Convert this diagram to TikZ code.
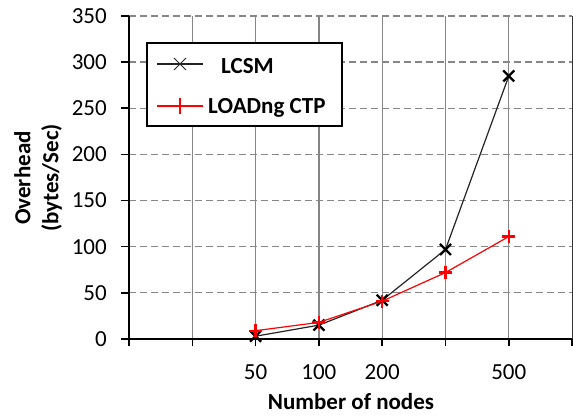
\documentclass[tikz,border=0pt]{standalone}
\usepackage{fontspec}
\setmainfont{Carlito}
\usepackage{tikz}
\usetikzlibrary{positioning}
\usepackage{xcolor}
\definecolor{gridgray}{RGB}{134,134,134}
\definecolor{lcsmcolor}{RGB}{35,35,35}
\definecolor{ctpcolor}{RGB}{255,0,0}

\begin{document}
\begin{tikzpicture}[x=1pt,y=1pt]
        \def\cw{63.3}
        \def\vs{0.923}
        \useasboundingbox (0,0) rectangle (573,417);
        \begin{scope}[shift={(129,78)}]
        \foreach \k in {1,...,6}
          \draw[gridgray,line width=1.3pt] (\k*\cw,0) -- (\k*\cw,350*\vs);
        \foreach \v in {50,100,...,350}
          \draw[gridgray,line width=1.3pt,dash pattern=on 7pt off 4pt] (0,\v*\vs) -- (7*\cw,\v*\vs);
        \draw[black!80,line width=1pt] (7*\cw,0) -- (7*\cw,350*\vs);
        \draw[black,line width=1.6pt] (0,350*\vs) -- (0,0) -- (7*\cw,0);
        \foreach \v in {0,50,...,350} {
          \draw[black,line width=1.6pt] (-8,\v*\vs) -- (0,\v*\vs);
          \node[anchor=east,inner sep=0pt,font=\fontsize{23}{27}\selectfont] (ytick\v) at (-22,\v*\vs) {\v};
        }
        \foreach \k in {0,...,7}
          \draw[black,line width=1.6pt] (\k*\cw,0) -- (\k*\cw,-7);
        \foreach \k/\l in {2/50,3/100,4/200,6/500}
          \node[font=\fontsize{23}{27}\selectfont] (xtick\l) at (\k*\cw,-33) {\l};
        % data
        \foreach \c/\v [count=\i] in {2/3,3/15,4/42,5/97,6/285}
          \coordinate (lcsm\i) at (\c*\cw,\v*\vs);
        \foreach \c/\v [count=\i] in {2/9,3/18,4/41,5/72,6/111}
          \coordinate (ctp\i) at (\c*\cw,\v*\vs);
        \draw[lcsmcolor,line width=1.2pt] (lcsm1) -- (lcsm2) -- (lcsm3) -- (lcsm4) -- (lcsm5);
        \foreach \i in {1,...,5}
          \draw[black,line width=2.3pt] (lcsm\i) +(-5.5,-5.5) -- +(5.5,5.5) (lcsm\i) +(-5.5,5.5) -- +(5.5,-5.5);
        \draw[ctpcolor,line width=1.2pt] (ctp1) -- (ctp2) -- (ctp3) -- (ctp4) -- (ctp5);
        \foreach \i in {1,...,5}
          \draw[ctpcolor,line width=2.3pt] (ctp\i) +(-6.5,0) -- +(6.5,0) (ctp\i) +(0,-6.5) -- +(0,6.5);
        \end{scope}
        % legend
        \draw[black,line width=1.5pt,fill=white] (147,291) rectangle (342,374);
        \coordinate (lega) at (157,353);
        \coordinate (legb) at (203,353);
        \draw[lcsmcolor,line width=1.4pt] (lega) -- (legb);
        \draw[lcsmcolor,line width=1pt] (180,353) +(-6,-6) -- +(6,6) (180,353) +(-6,6) -- +(6,-6);
        \node[anchor=west,inner sep=0pt,font=\bfseries\fontsize{23}{27}\selectfont] (leglcsm) at (221,351) {LCSM};
        \coordinate (legc) at (157,311);
        \coordinate (legd) at (203,311);
        \draw[ctpcolor,line width=1.2pt] (legc) -- (legd);
        \draw[ctpcolor,line width=1.2pt] (180,311) +(0,-8) -- +(0,8);
        \node[anchor=west,inner sep=0pt,font=\bfseries\fontsize{23}{27}\selectfont] (legctp) at (208,309) {LOADng CTP};
        % titles
        \node[rotate=90,align=center,font=\bfseries\fontsize{23}{28}\selectfont] (ytitle) at (38,239) {Overhead\\(bytes/Sec)};
        \node[anchor=base,inner sep=0pt,font=\bfseries\fontsize{23}{27}\selectfont] (xtitle) at (351,7) {Number of nodes};
      \end{tikzpicture}
\end{document}
